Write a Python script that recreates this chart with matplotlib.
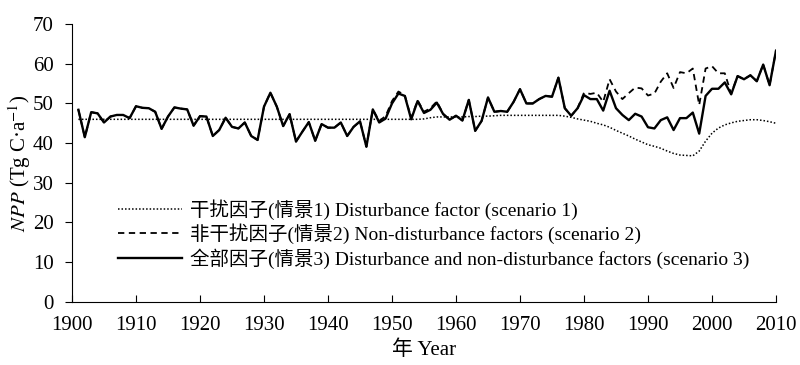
import matplotlib
matplotlib.use('Agg')
import matplotlib.pyplot as plt

# 글꼴: 영문은 Times 계열, 한자는 CJK
plt.rcParams['font.family'] = ['Liberation Serif', 'Noto Sans CJK SC']
plt.rcParams['mathtext.fontset'] = 'stix'

years = list(range(1901, 2011))

# 情景1 干扰因子 (dotted)
npp_s1 = [
    46.0, 46.0, 46.0, 46.0, 46.0, 46.0, 46.0, 46.0, 46.0, 46.0,
    46.0, 46.0, 46.0, 46.0, 46.0, 46.0, 46.0, 46.0, 46.0, 46.0,
    46.0, 46.0, 46.0, 46.0, 46.0, 46.0, 46.0, 46.0, 46.0, 46.0,
    46.0, 46.0, 46.0, 46.0, 46.0, 46.0, 46.0, 46.0, 46.0, 46.0,
    46.0, 46.0, 46.0, 46.0, 46.0, 46.0, 46.0, 46.0, 46.0, 46.0,
    46.0, 46.0, 46.0, 46.0, 46.1, 46.4, 46.6, 46.6, 46.6, 46.6,
    46.6, 46.7, 46.7, 46.8, 46.8, 46.9, 47.0, 47.0, 47.0, 47.0,
    47.0, 47.0, 47.0, 47.0, 47.0, 47.0, 46.8, 46.5, 46.1, 45.8,
    45.5, 45.0, 44.6, 44.0, 43.2, 42.5, 41.8, 41.0, 40.3, 39.6,
    39.2, 38.7, 38.0, 37.4, 37.0, 36.9, 36.8, 38.0, 40.5, 42.5,
    43.8, 44.6, 45.1, 45.5, 45.7, 45.9, 45.9, 45.7, 45.4, 45.0,
]

# 情景2 非干扰因子 (dashed)
npp_s2 = [
    48.4, 41.5, 47.8, 47.5, 45.2, 46.7, 47.1, 47.1, 46.3, 49.3,
    48.9, 48.8, 47.9, 43.6, 46.7, 49.0, 48.7, 48.5, 44.4, 46.8,
    46.7, 41.8, 43.3, 46.4, 44.1, 43.7, 45.2, 41.8, 40.8, 49.2,
    52.7, 49.2, 44.3, 47.3, 40.4, 42.9, 45.3, 40.6, 44.8, 43.9,
    43.9, 45.2, 41.8, 44.1, 45.5, 39.1, 48.5, 45.6, 46.8, 50.6,
    53.0, 52.1, 46.3, 50.8, 47.9, 48.8, 50.5, 47.4, 45.9, 46.9,
    45.7, 50.9, 43.1, 45.6, 51.5, 47.9, 48.1, 47.9, 50.4, 53.6,
    50.0, 50.0, 51.1, 51.9, 51.7, 56.5, 48.8, 46.9, 48.8, 52.7,
    52.4, 52.7, 50.4, 56.1, 53.0, 51.1, 52.6, 54.0, 53.8, 52.0,
    52.5, 55.5, 57.6, 53.9, 57.9, 57.6, 58.8, 49.6, 58.8, 59.4,
    57.6, 57.6, 52.5, 56.9, 56.1, 57.1, 55.6, 59.8, 54.6, 63.3,
]

# 情景3 全部因子 (solid)
npp_s3 = [
    48.4, 41.5, 47.8, 47.5, 45.2, 46.7, 47.1, 47.1, 46.3, 49.3,
    48.9, 48.8, 47.9, 43.6, 46.7, 49.0, 48.7, 48.5, 44.4, 46.8,
    46.7, 41.8, 43.3, 46.4, 44.1, 43.7, 45.2, 41.8, 40.8, 49.2,
    52.7, 49.2, 44.3, 47.3, 40.4, 42.9, 45.3, 40.6, 44.8, 43.9,
    43.9, 45.2, 41.8, 44.1, 45.5, 39.1, 48.5, 45.2, 46.2, 50.0,
    52.5, 51.9, 46.0, 50.6, 47.6, 48.4, 50.2, 47.3, 45.9, 46.9,
    45.7, 50.9, 43.1, 45.6, 51.5, 47.9, 48.1, 47.9, 50.4, 53.6,
    50.0, 50.0, 51.1, 51.9, 51.7, 56.5, 48.8, 46.9, 48.8, 52.1,
    51.1, 51.1, 48.2, 53.2, 48.8, 47.1, 45.8, 47.4, 46.7, 44.0,
    43.7, 45.8, 46.5, 43.3, 46.3, 46.3, 47.7, 42.4, 51.9, 53.7,
    53.7, 55.3, 52.3, 56.9, 56.1, 57.1, 55.6, 59.8, 54.6, 63.3,
]

labels = [
    '干扰因子(情景1) Disturbance factor (scenario 1)',
    '非干扰因子(情景2) Non-disturbance factors (scenario 2)',
    '全部因子(情景3) Disturbance and non-disturbance factors (scenario 3)',
]

x_ticks = list(range(1900, 2011, 10))
y_ticks = list(range(0, 71, 10))

fig = plt.figure(figsize=(8, 3.65), dpi=100)
ax = fig.add_axes([0.09, 0.173, 0.88, 0.761])

ax.plot(years, npp_s1, color='black', linestyle=(0, (1, 1.3)), linewidth=1.1, label=labels[0])
ax.plot(years, npp_s2, color='black', linestyle=(0, (3.5, 2.5)), linewidth=1.3, label=labels[1])
ax.plot(years, npp_s3, color='black', linestyle='-', linewidth=1.7, label=labels[2])

ax.set_xlim(1900, 2010)
ax.set_ylim(0, 70)
ax.set_xticks(x_ticks)
ax.set_yticks(y_ticks)
ax.tick_params(axis='x', direction='in', length=5, labelsize=15, pad=10)
ax.tick_params(axis='y', direction='out', length=5, labelsize=15, pad=8)

for side in ['top', 'right']:
    ax.spines[side].set_visible(False)

ax.set_xlabel('年 Year', fontsize=15, labelpad=4)
ax.set_ylabel(r'$\it{NPP}$ (Tg C·a$^{-1}$)', fontsize=15, labelpad=0)

ax.legend(loc='center left', bbox_to_anchor=(0.065, 0.245), frameon=False,
          fontsize=14, handlelength=3.3, handletextpad=0.4,
          labelspacing=0.2, borderpad=0, borderaxespad=0)

fig.savefig('out.png', dpi=100)
